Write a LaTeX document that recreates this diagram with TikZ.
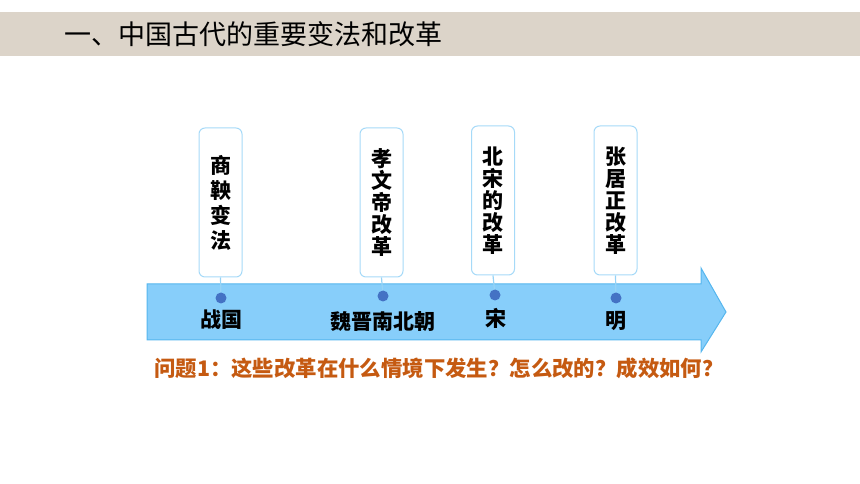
\documentclass[tikz,border=0pt]{standalone}
\usepackage{fontspec}
\setmainfont{Noto Sans CJK SC}
\usetikzlibrary{arrows}
\definecolor{band}{HTML}{DCD4C9}
\definecolor{arrowfill}{HTML}{87CEFA}
\definecolor{arrowline}{HTML}{55B6EE}
\definecolor{boxline}{HTML}{A6DAF8}
\definecolor{dotblue}{HTML}{4472C4}
\definecolor{askorange}{HTML}{C55A11}
\tikzset{
  reform/.style={draw=boxline, line width=1pt, fill=white, rounded corners=6,
    minimum width=43, minimum height=149, inner sep=0, align=center,
    font=\bfseries\fontsize{21}{22}\selectfont},
  era/.style={font=\bfseries\fontsize{21}{21}\selectfont, inner sep=0},
  dot/.style={circle, fill=dotblue, minimum size=11, inner sep=0},
  stem/.style={draw=boxline!80!arrowline, line width=1.2pt}
}

\begin{document}
\begin{tikzpicture}[x=1pt, y=1pt]
\useasboundingbox (0,0) rectangle (860,484);
\fill[band] (0,428) rectangle (860,472);
\node[anchor=west, inner sep=0, font=\fontsize{27}{27}\selectfont] (T) at (64,450) {一、中国古代的重要变法和改革};

\draw[fill=arrowfill, draw=arrowline, line width=1pt]
  (147,200) -- (701,200) -- (701,216) -- (726,172) -- (701,132) -- (701,144) -- (147,144) -- cycle;

\node[reform, font=\bfseries\fontsize{21}{25}\selectfont] (B1) at (220.5,281.5) {商\\鞅\\变\\法};
\node[reform] (B2) at (381.5,281.5) {孝\\文\\帝\\改\\革};
\node[reform] (B3) at (493,283.5) {北\\宋\\的\\改\\革};
\node[reform] (B4) at (615.5,283.5) {张\\居\\正\\改\\革};

\node[dot] (P1) at (221,186) {};
\node[dot] (P2) at (383,188) {};
\node[dot] (P3) at (495,189) {};
\node[dot] (P4) at (616,186) {};

\draw[stem] (B1.south) -- (P1);
\draw[stem] (B2.south) -- (P2);
\draw[stem] (B3.south) -- (P3);
\draw[stem] (B4.south) -- (P4);

\node[era] (L1) at (221,164) {战国};
\node[era] (L2) at (383,162) {魏晋南北朝};
\node[era] (L3) at (496,166) {宋};
\node[era] (L4) at (616,163) {明};

\node[askorange, font=\bfseries\fontsize{21.4}{21.4}\selectfont, anchor=west, inner sep=0] (Q) at (154,116) {问题1：这些改革在什么情境下发生？怎么改的？成效如何？};
\end{tikzpicture}
\end{document}
